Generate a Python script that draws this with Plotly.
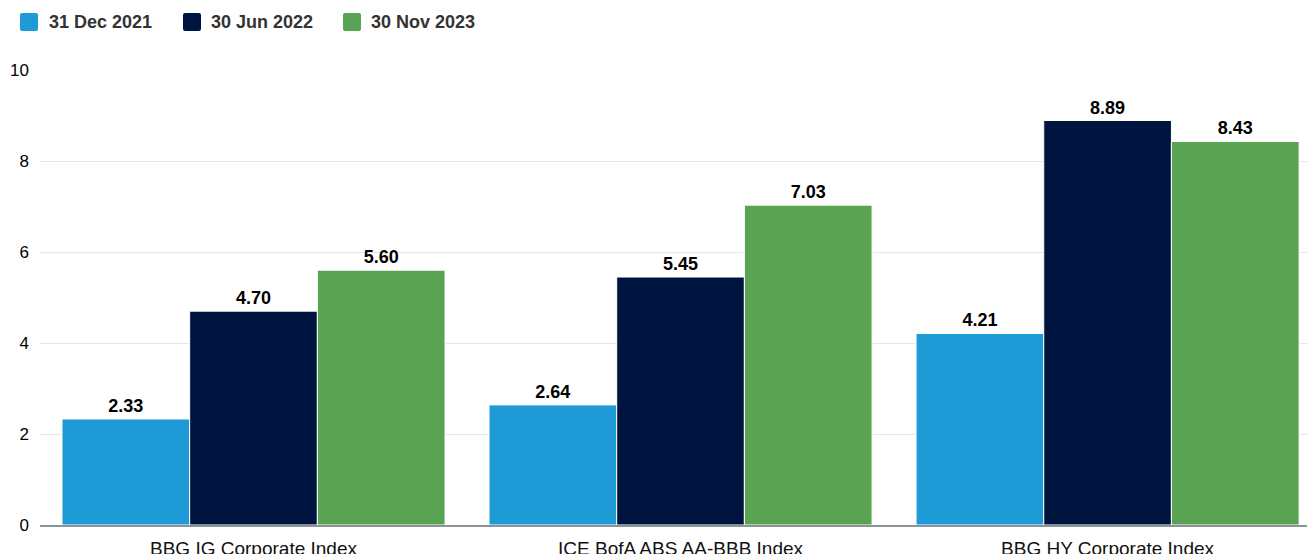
import plotly.graph_objects as go

# Index names and yield values (%) at three dates
categories = ["BBG IG Corporate Index", "ICE BofA ABS AA-BBB Index", "BBG HY Corporate Index"]
series_names = ["31 Dec 2021", "30 Jun 2022", "30 Nov 2023"]
dec_2021 = [2.33, 2.64, 4.21]
jun_2022 = [4.70, 5.45, 8.89]
nov_2023 = [5.60, 7.03, 8.43]
y_ticks = [0, 2, 4, 6, 8, 10]

colors = ["#1E9AD6", "#001440", "#5AA353"]
font_family = "Liberation Sans, Arial, Helvetica, sans-serif"

fig = go.Figure()
for name, vals, col in zip(series_names, [dec_2021, jun_2022, nov_2023], colors):
    fig.add_trace(go.Bar(
        x=categories,
        y=vals,
        name=name,
        marker=dict(color=col, line=dict(color="#ffffff", width=1)),
        text=[f"{v:.2f}" for v in vals],
        textposition="outside",
        textfont=dict(family=font_family, size=18, color="#000000", weight="bold"),
        cliponaxis=False,
        showlegend=False,
    ))

# Custom legend: rounded squares plus bold labels above the plot
legend_items = [(20, 47), (183, 209), (343, 369)]
plot_left = 40
plot_top = 70
for (sq_x, txt_x), name, col in zip(legend_items, series_names, colors):
    x0 = sq_x - plot_left
    x1 = x0 + 18
    y0 = plot_top - 31
    y1 = plot_top - 13
    r = 2
    path = (f"M{x0 + r},{y0} L{x1 - r},{y0} Q{x1},{y0} {x1},{y0 + r} "
            f"L{x1},{y1 - r} Q{x1},{y1} {x1 - r},{y1} L{x0 + r},{y1} "
            f"Q{x0},{y1} {x0},{y1 - r} L{x0},{y0 + r} Q{x0},{y0} {x0 + r},{y0} Z")
    fig.add_shape(
        type="path", path=path,
        xref="paper", yref="paper",
        xsizemode="pixel", ysizemode="pixel",
        xanchor=0, yanchor=1,
        fillcolor=col, line=dict(width=0),
    )
    fig.add_annotation(
        x=0, y=1, xref="paper", yref="paper",
        xanchor="left", yanchor="middle",
        xshift=txt_x - plot_left, yshift=plot_top - 22,
        text=f"<b>{name}</b>", showarrow=False,
        font=dict(family=font_family, size=18, color="#333333"),
    )

fig.update_layout(
    width=1307,
    height=554,
    margin=dict(l=40, r=0, t=70, b=29, autoexpand=False),
    paper_bgcolor="#ffffff",
    plot_bgcolor="#ffffff",
    barmode="group",
    bargap=0.103,
    bargroupgap=0,
    font=dict(family=font_family, size=16, color="#000000"),
    xaxis=dict(
        range=[-0.5, 2.467],
        automargin=False,
        showgrid=False,
        showline=True,
        linecolor="#8A949B",
        linewidth=2,
        ticks="",
        tickfont=dict(size=19, color="#111111"),
        ticklabelstandoff=5,
    ),
    yaxis=dict(
        range=[0, 10],
        automargin=False,
        tickvals=y_ticks,
        showgrid=True,
        gridcolor="#E6E6E6",
        gridwidth=1,
        zeroline=False,
        showline=False,
        ticks="",
        tickfont=dict(size=17, color="#000000"),
        ticklabelstandoff=10,
    ),
)

fig.write_html("out.html")
